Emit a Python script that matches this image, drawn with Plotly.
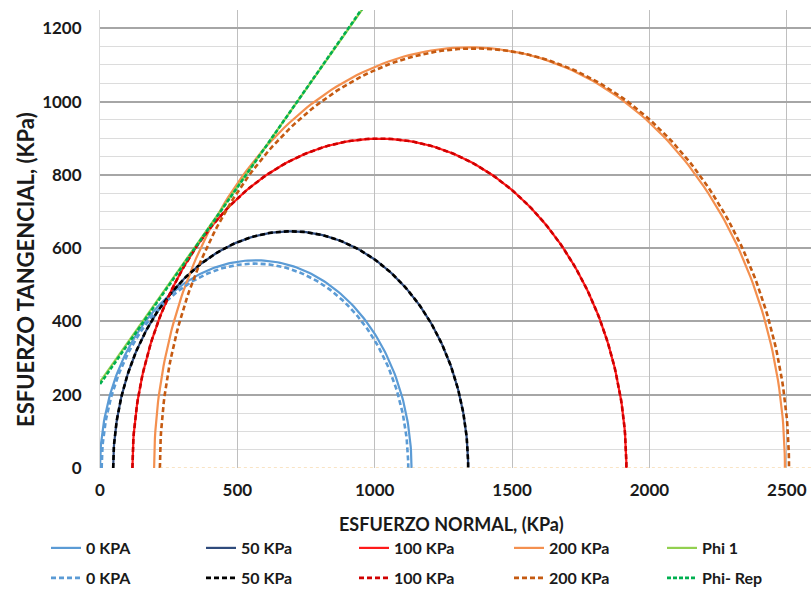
import numpy as np
import plotly.graph_objects as go

# Mohr circles: (sigma3, sigma1) in KPa
names = ["0 KPA", "50 KPa", "100 KPa", "200 KPa"]
sigma3_solid = [0, 48, 118, 197]
sigma1_solid = [1134, 1340, 1916, 2493]
sigma3_dash = [6, 48, 118, 218]
sigma1_dash = [1122, 1340, 1916, 2508]
colors_solid = ["#5B9BD5", "#2F4B7C", "#FF1A1A", "#F4904F"]
colors_dash = ["#5B9BD5", "#000000", "#D00000", "#C55A11"]

# Failure envelopes (two points each)
phi1_x = [0, 1000]
phi1_y = [235, 1300]
phirep_x = [0, 1000]
phirep_y = [229, 1303]

FONT = "Lato"
W, H = 811, 590

# legend layout (pixel positions of each column / row)
col_x = [46, 201, 354, 509, 662]
row_y = [548, 578]

def circle(s3, s1, n=181):
    c = (s1 + s3) / 2.0
    r = (s1 - s3) / 2.0
    t = np.linspace(np.pi, 0, n)
    return c + r * np.cos(t), r * np.sin(t)

fig = go.Figure()
legend_defs = {}

def leg_name(i):
    return "legend" if i == 0 else f"legend{i + 1}"

def add_leg(i, col, row):
    legend_defs[leg_name(i)] = dict(
        visible=True,
        orientation="h", xref="container", yref="container",
        x=col_x[col] / W, y=1 - row_y[row] / H, xanchor="left", yanchor="middle",
        font=dict(family=FONT, size=16, color="#1a1a1a", weight="bold"),
        bgcolor="rgba(0,0,0,0)", itemwidth=30)

k = 0
for j, (nm, a, b, col) in enumerate(zip(names, sigma3_solid, sigma1_solid, colors_solid)):
    x, y = circle(a, b)
    fig.add_trace(go.Scatter(x=x, y=y, mode="lines", name=nm, legend=leg_name(k),
                             showlegend=True, line=dict(color=col, width=2.2)))
    add_leg(k, j, 0)
    k += 1
fig.add_trace(go.Scatter(x=phi1_x, y=phi1_y, mode="lines", name="Phi 1", legend=leg_name(k),
                         showlegend=True, line=dict(color="#92D050", width=2.2)))
add_leg(k, 4, 0)
k += 1

for j, (nm, a, b, col) in enumerate(zip(names, sigma3_dash, sigma1_dash, colors_dash)):
    x, y = circle(a, b)
    fig.add_trace(go.Scatter(x=x, y=y, mode="lines", name=nm, legend=leg_name(k),
                             showlegend=True, line=dict(color=col, width=2.6, dash="5px,3px")))
    add_leg(k, j, 1)
    k += 1
fig.add_trace(go.Scatter(x=phirep_x, y=phirep_y, mode="lines", name="Phi- Rep", legend=leg_name(k),
                         showlegend=True, line=dict(color="#00B050", width=2.6, dash="4px,2px")))
add_leg(k, 4, 1)

# faint dotted baseline
fig.add_shape(type="line", xref="x", yref="y", x0=218, x1=2588, y0=0, y1=0,
              line=dict(color="#F2C88A", width=1, dash="dot"), layer="above")

fig.update_layout(
    width=W, height=H,
    showlegend=True,
    margin=dict(l=100, r=0, t=10, b=122),
    paper_bgcolor="white", plot_bgcolor="white",
    font=dict(family=FONT, color="#1a1a1a"),
    xaxis=dict(range=[0, 2588], dtick=500, tick0=0, showgrid=True, gridcolor="#BFBFBF",
               gridwidth=1.2, zeroline=False, showline=False,
               tickfont=dict(family=FONT, size=17, color="#1a1a1a", weight="bold"),
               ticklabelstandoff=10),
    yaxis=dict(range=[0, 1250], dtick=200, tick0=0, showgrid=True, gridcolor="#A6A6A6",
               gridwidth=1.5, zeroline=False, showline=True, linecolor="#D9D9D9",
               mirror=True,
               minor=dict(dtick=50, showgrid=True, gridcolor="#DCDCDC", gridwidth=1.2),
               tickfont=dict(family=FONT, size=17, color="#1a1a1a", weight="bold"),
               ticklabelstandoff=14),
    annotations=[
        dict(text="ESFUERZO NORMAL, (KPa)", xref="paper", yref="paper",
             x=(451 - 100) / 711, y=-(524 - 468) / 458, xanchor="center", yanchor="middle",
             showarrow=False, font=dict(family=FONT, size=18, color="#1a1a1a", weight="bold")),
        dict(text="ESFUERZO TANGENCIAL, (KPa)", xref="paper", yref="paper",
             x=-(100 - 25) / 711, y=(468 - 270) / 458, xanchor="center", yanchor="middle",
             textangle=-90, showarrow=False,
             font=dict(family=FONT, size=22, color="#1a1a1a", weight="bold")),
    ],
)
fig.update_layout(**legend_defs)

fig.write_html("out.html")
